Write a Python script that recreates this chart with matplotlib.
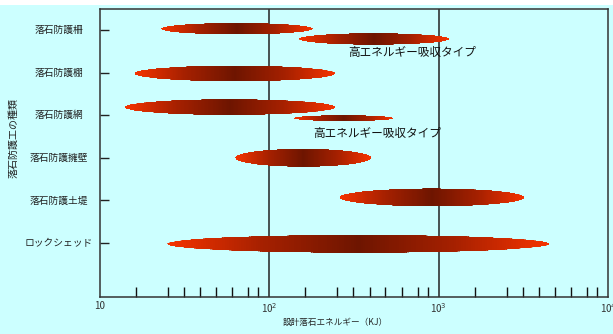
import numpy as np
import matplotlib
matplotlib.use("Agg")
import matplotlib.pyplot as plt
from matplotlib.patches import Polygon, Rectangle
from matplotlib.colors import LinearSegmentedColormap
from matplotlib.ticker import FixedLocator, FixedFormatter, NullFormatter

plt.rcParams['font.family'] = ['Noto Sans CJK JP', 'DejaVu Sans']

# Categories (top to bottom)
categories = ['落石防護柵', '落石防護棚', '落石防護網', '落石防護擁壁', '落石防護土堤', 'ロックシェッド']

# Energy ranges (kJ) for each band; bar_cat gives the category row
bar_cat = [0, 0, 1, 2, 2, 3, 4, 5]
bar_low = [23, 150, 16, 14, 140, 63, 260, 25]
bar_high = [180, 1150, 245, 245, 540, 400, 3200, 4500]

# Vertical offset within the row and band thickness (row units)
bar_offset = [-0.03, 0.21, 0.02, -0.19, 0.07, 0.0, -0.07, 0.02]
bar_thick = [0.27, 0.27, 0.37, 0.37, 0.14, 0.42, 0.42, 0.42]

xtick_values = [10, 100, 1000, 10000]
xtick_labels = ['10', '10$^2$', '10$^3$', '10$^4$']
minor_mult = [1.63, 2.52, 3.14, 3.91, 4.85, 6.04, 7.52, 8.61]

note_text = '高エネルギー吸収タイプ'

BG = '#CCFFFF'
W, H = 613, 334
fig = plt.figure(figsize=(W / 100, H / 100), dpi=100, facecolor=BG)
fig.patches.append(Rectangle((0, 1 - 5 / H), 1, 5 / H, transform=fig.transFigure,
                             facecolor='white', edgecolor='none'))

ax = fig.add_axes([100 / W, (H - 297) / H, 508 / W, 288 / H], facecolor=BG)
ax.set_xscale('log')
ax.set_xlim(10, 10000)
ax.set_ylim(6.268, -0.493)

cmap = LinearSegmentedColormap.from_list('band', ['#6E1500', '#A52000', '#F53300'])

for cat, lo, hi, off, th in zip(bar_cat, bar_low, bar_high, bar_offset, bar_thick):
    l0, l1 = np.log10(lo), np.log10(hi)
    cx, a = (l0 + l1) / 2, (l1 - l0) / 2
    cy, b = cat + off, th / 2
    t = np.linspace(0, 2 * np.pi, 300)
    verts = np.column_stack([10 ** (cx + a * np.cos(t)), cy + b * np.sin(t)])
    poly = Polygon(verts, closed=True, facecolor='none', edgecolor='none',
                   transform=ax.transData)
    ax.add_patch(poly)
    xs = 10 ** np.linspace(l0, l1, 161)
    mids = (np.arange(160) + 0.5) / 160
    c = np.abs(2 * mids - 1)
    mesh = ax.pcolormesh(xs, [cy - b, cy + b], c[np.newaxis, :], cmap=cmap,
                         vmin=0, vmax=1, shading='flat', zorder=2,
                         edgecolors='face', linewidth=0.4)
    mesh.set_clip_path(poly)

# Decade grid lines
for xv in (100, 1000):
    ax.axvline(xv, color='#222222', lw=1.1, zorder=1)

ax.text(10 ** (1 + 248 / 169.3), 0.52, note_text, fontsize=8.4, color='#111111',
        ha='left', va='center', zorder=3)
ax.text(10 ** (1 + 213 / 169.3), 2.42, note_text, fontsize=8.4, color='#111111',
        ha='left', va='center', zorder=3)

# X axis ticks
ax.xaxis.set_major_locator(FixedLocator(xtick_values))
ax.xaxis.set_major_formatter(FixedFormatter(xtick_labels))
minors = [m * 10 ** k for k in (1, 2, 3) for m in minor_mult]
ax.xaxis.set_minor_locator(FixedLocator(minors))
ax.xaxis.set_minor_formatter(NullFormatter())
ax.tick_params(axis='x', which='major', length=0, pad=3, labelsize=7, labelcolor='#333333')
ax.tick_params(axis='x', which='minor', direction='in', length=7.5, width=1, color='#111111')

# Y axis ticks; category names are centred in the left margin
ax.set_yticks(range(len(categories)))
ax.set_yticklabels([])
ax.tick_params(axis='y', which='major', direction='in', length=6.5, width=1,
               color='#222222')
ytrans = ax.get_yaxis_transform()
for i, name in enumerate(categories):
    ax.text(-41 / 508, i, name, transform=ytrans, fontsize=7, color='#222222',
            ha='center', va='center', clip_on=False)

for s in ax.spines.values():
    s.set_color('#333333')
    s.set_linewidth(1.1)

fig.text(335 / W, 1 - 322 / H, '設計落石エネルギー（KJ）', fontsize=6.2,
         color='#222222', ha='center', va='center')
fig.text(13 / W, 1 - 138 / H, '落石防護工の種類', fontsize=7.2, rotation=90,
         color='#222222', ha='center', va='center')

fig.savefig('out.png', dpi=100, facecolor=BG)
